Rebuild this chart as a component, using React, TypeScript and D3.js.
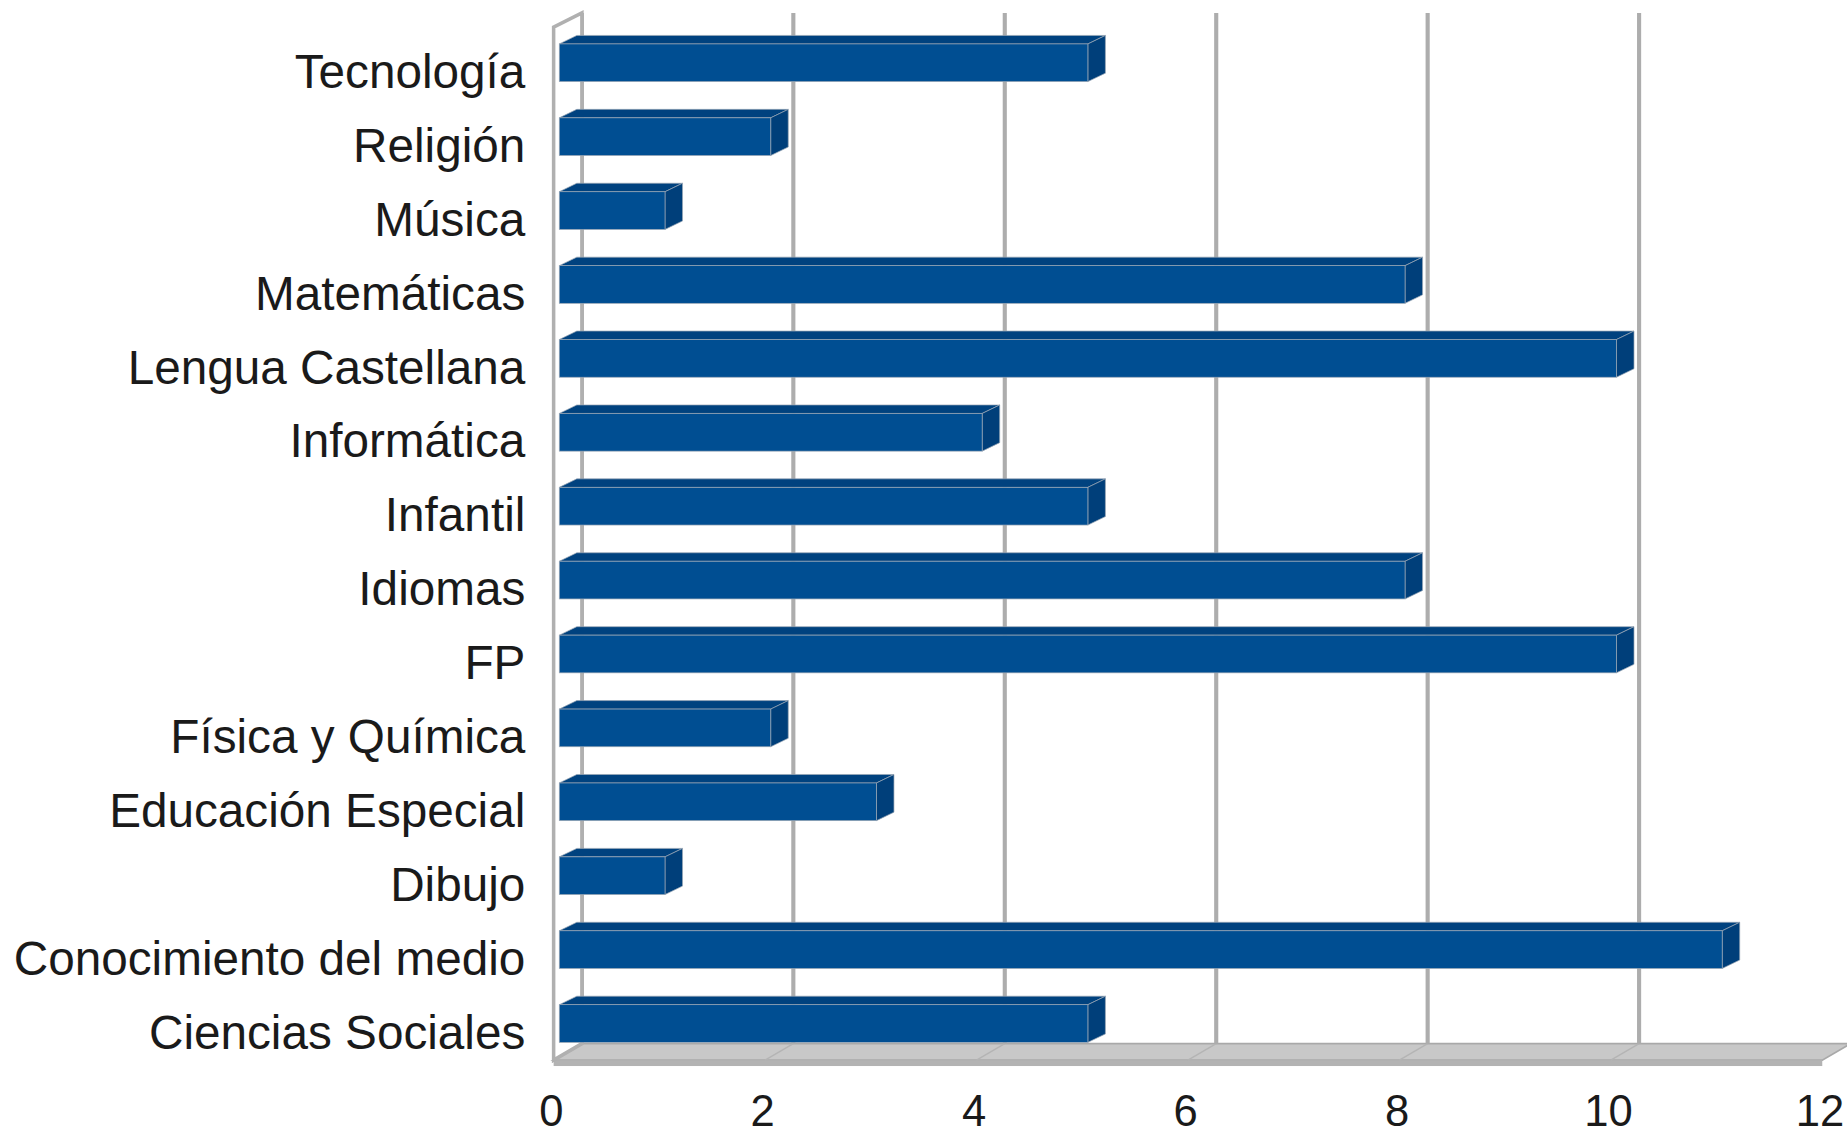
import { useEffect, useRef } from "react"
import * as d3 from "d3"

const categories = [
  "Tecnología",
  "Religión",
  "Música",
  "Matemáticas",
  "Lengua Castellana",
  "Informática",
  "Infantil",
  "Idiomas",
  "FP",
  "Física y Química",
  "Educación Especial",
  "Dibujo",
  "Conocimiento del medio",
  "Ciencias Sociales",
]
const values = [5, 2, 1, 8, 10, 4, 5, 8, 10, 2, 3, 1, 11, 5]
const xTicks = [0, 2, 4, 6, 8, 10, 12]

const App = () => {
  const svgRef = useRef<SVGSVGElement>(null)

  useEffect(() => {
    const svg = d3.select(svgRef.current)
    svg.selectAll("*").remove()

    // drawing units (scaled up to 1847x1134 by the viewBox)
    const depthX = 24
    const depthY = -12
    const floorY = 900
    const floorDepthY = -14
    const topY = 23
    const font = "'Liberation Sans', Arial, sans-serif"

    // x scale on the front plane
    const x = d3.scaleLinear().domain([0, 12]).range([470, 1547])
    const y = d3
      .scaleBand()
      .domain(categories)
      .range([24, 903])
      .paddingInner(0.49)
      .paddingOuter(0.25)

    const g = svg.append("g")

    // floor slab
    const x0 = x(0)
    const x12 = x(12)
    g.append("path")
      .attr(
        "d",
        `M${x0},${floorY} L${x12},${floorY} L${x12 + depthX},${floorY + floorDepthY} L${x0 + depthX},${floorY + floorDepthY} Z`,
      )
      .attr("fill", "#c8c8c8")
      .attr("stroke", "#a9a9a9")
      .attr("stroke-width", 1.5)
    g.append("rect")
      .attr("x", x0)
      .attr("y", floorY)
      .attr("width", x12 - x0)
      .attr("height", 5)
      .attr("fill", "#b3b3b3")

    // floor diagonals
    g.selectAll(".floor-tick")
      .data(xTicks.slice(1, -1))
      .enter()
      .append("line")
      .attr("x1", (d) => x(d))
      .attr("y1", floorY)
      .attr("x2", (d) => x(d) + depthX)
      .attr("y2", floorY + floorDepthY)
      .attr("stroke", "#b4b4b4")
      .attr("stroke-width", 1.2)

    // back wall gridlines
    g.selectAll(".grid")
      .data(xTicks)
      .enter()
      .append("line")
      .attr("x1", (d) => x(d) + depthX)
      .attr("x2", (d) => x(d) + depthX)
      .attr("y1", topY + depthY)
      .attr("y2", floorY + floorDepthY)
      .attr("stroke", "#adadad")
      .attr("stroke-width", 3.5)

    // left side wall
    g.append("path")
      .attr(
        "d",
        `M${x0},${floorY} L${x0},${topY} L${x0 + depthX},${topY + depthY} L${x0 + depthX},${floorY + floorDepthY} Z`,
      )
      .attr("fill", "#ffffff")
      .attr("stroke", "#b0b0b0")
      .attr("stroke-width", 3)
      .attr("stroke-linejoin", "miter")

    // bars
    const off0x = depthX * 0.2
    const off0y = depthY * 0.2
    const bdx = depthX * 0.62
    const bdy = depthY * 0.6
    const bh = y.bandwidth()

    const bars = g
      .selectAll(".bar")
      .data(categories.map((c, i) => ({ c, v: values[i] })))
      .enter()
      .append("g")
      .attr("class", "bar")

    bars
      .append("path")
      .attr("d", (d) => {
        const xa = x(0) + off0x
        const xb = x(d.v) + off0x
        const ya = (y(d.c) as number) + off0y
        return `M${xa},${ya} L${xa + bdx},${ya + bdy} L${xb + bdx},${ya + bdy} L${xb},${ya} Z`
      })
      .attr("fill", "#00427f")
      .attr("stroke", "#9aa7b5")
      .attr("stroke-width", 0.6)

    bars
      .append("path")
      .attr("d", (d) => {
        const xb = x(d.v) + off0x
        const ya = (y(d.c) as number) + off0y
        return `M${xb},${ya} L${xb + bdx},${ya + bdy} L${xb + bdx},${ya + bdy + bh} L${xb},${ya + bh} Z`
      })
      .attr("fill", "#003f7a")
      .attr("stroke", "#9aa7b5")
      .attr("stroke-width", 0.6)

    bars
      .append("rect")
      .attr("x", x(0) + off0x)
      .attr("y", (d) => (y(d.c) as number) + off0y)
      .attr("width", (d) => x(d.v) - x(0))
      .attr("height", bh)
      .attr("fill", "#004e92")
      .attr("stroke", "#9aa7b5")
      .attr("stroke-width", 0.6)

    // category labels
    g.selectAll(".cat")
      .data(categories)
      .enter()
      .append("text")
      .attr("x", 446)
      .attr("y", (d) => (y(d) as number) + bh / 2 + 19)
      .attr("text-anchor", "end")
      .attr("font-family", font)
      .attr("font-size", 40.5)
      .attr("fill", "#1a1a1a")
      .text((d) => d)

    // value axis labels
    g.selectAll(".tick-label")
      .data(xTicks)
      .enter()
      .append("text")
      .attr("x", (d) => x(d) - 2)
      .attr("y", 956)
      .attr("text-anchor", "middle")
      .attr("font-family", font)
      .attr("font-size", 37)
      .attr("fill", "#1a1a1a")
      .text((d) => d)
  }, [])

  return (
    <svg
      ref={svgRef}
      width={1847}
      height={1134}
      viewBox="0 0 1568 962.7"
      style={{ position: "absolute", left: 0, top: 0, display: "block", background: "#fff" }}
    ></svg>
  )
}

export default App
